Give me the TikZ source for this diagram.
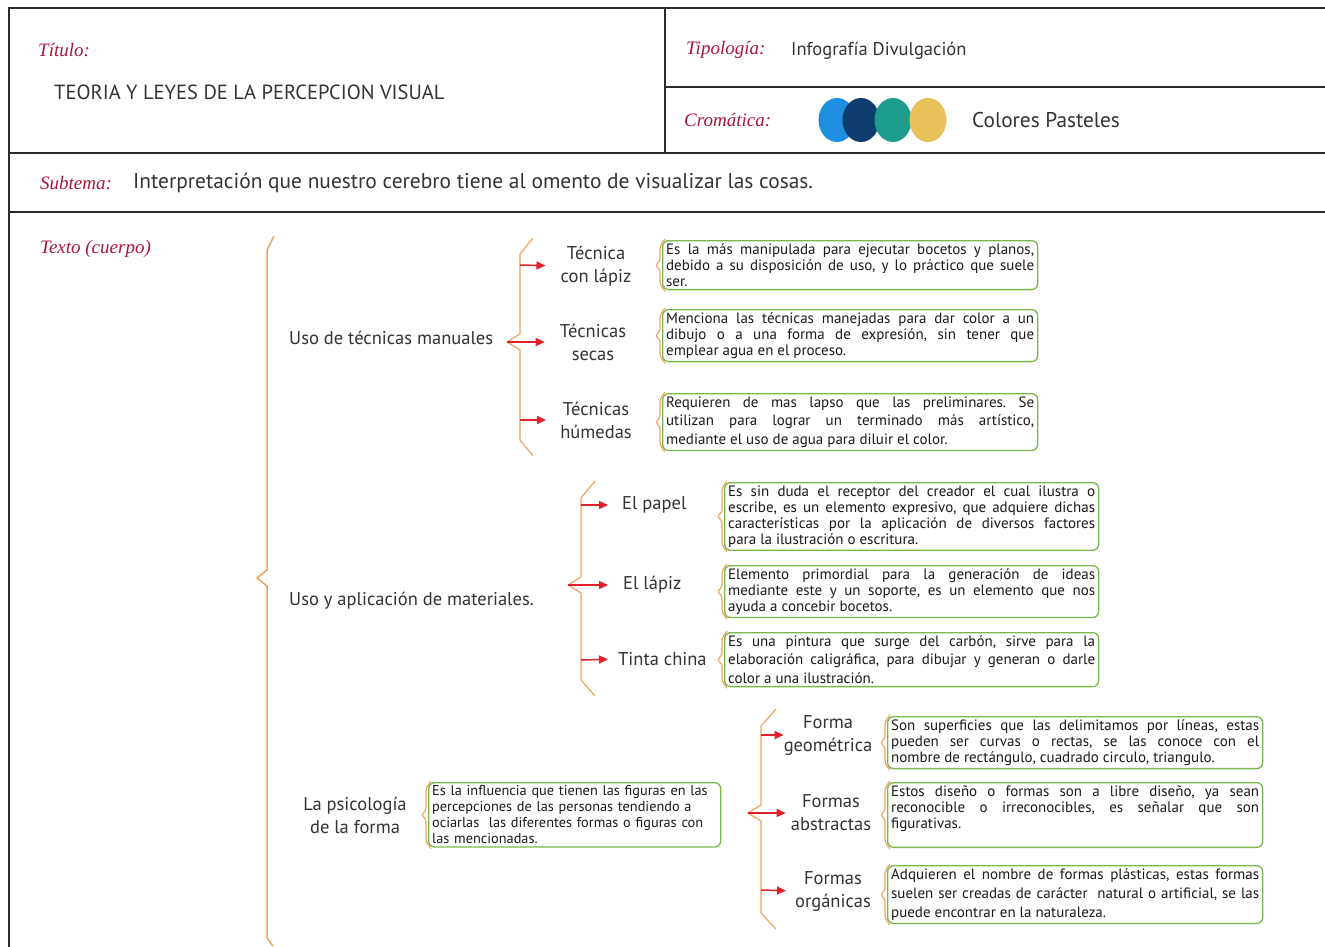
\documentclass[tikz,border=0pt]{standalone}
\usepackage{fontspec}
\setmainfont{PT Sans}
\newfontfamily\tagfont{Liberation Serif}
\usetikzlibrary{calc, arrows.meta, shapes.geometric}
\frenchspacing

\definecolor{framegray}{HTML}{2B2B2B}
\definecolor{tagred}{HTML}{A8173C}
\definecolor{labelgray}{HTML}{333333}
\definecolor{boxtext}{HTML}{1A1A1A}
\definecolor{braceorange}{HTML}{F2A35E}
\definecolor{arrred}{HTML}{E0202A}
\definecolor{boxgreen}{HTML}{78B84A}
\definecolor{dotblue}{HTML}{1E8FE1}
\definecolor{dotnavy}{HTML}{0D3C6E}
\definecolor{dotteal}{HTML}{1E9C8C}
\definecolor{dotyellow}{HTML}{E9C05A}

\tikzset{
  frame/.style={draw=framegray, line width=1.6pt},
  tag/.style={font=\tagfont\itshape\fontsize{19}{22}\selectfont, text=tagred, anchor=west, inner sep=0pt},
  head/.style={font=\fontsize{20.5}{24}\selectfont, text=labelgray, anchor=west, inner sep=0pt},
  item/.style={font=\fontsize{18.5}{23}\selectfont, text=labelgray, align=center, inner sep=0pt},
  info/.style={draw=boxgreen, line width=1.3pt, rounded corners=6pt, fill=white, text=boxtext,
    anchor=north west, align=justify, inner xsep=3.5pt, inner ysep=3pt,
    font=\fontsize{15}{16}\selectfont},
  brc/.style={draw=braceorange, line width=1.2pt, line join=round},
  arr/.style={draw=arrred, line width=1.5pt, -{Triangle[length=9pt,width=8pt]}},
  dot/.style={ellipse, inner sep=0pt, minimum width=37pt, minimum height=44pt},
}

% brace on the left side of a text box
\newcommand{\infobrace}[1]{%
  \draw[brc, rounded corners=3pt] ($(#1.north west)+(3,-1)$) -- ($(#1.north west)+(-2,6)$)
    -- ($(#1.west)+(-2,-4)$) -- ($(#1.west)+(-7,0)$) -- ($(#1.west)+(-2,4)$)
    -- ($(#1.south west)+(-2,-6)$) -- ($(#1.south west)+(3,1)$);}

\begin{document}
\begin{tikzpicture}[x=1pt, y=-1pt]
  \useasboundingbox[fill=white] (0,0) rectangle (1325,947);

  % frame of the sheet
  \draw[frame] (1325,8) -- (9,8) -- (9,947);
  \draw[frame] (9,153) -- (1325,153);
  \draw[frame] (9,212) -- (1325,212);
  \draw[frame] (665,8) -- (665,153);
  \draw[frame] (665,87) -- (1325,87);

  % header
  \node[tag] (titulo) at (38,50) {Título:};
  \node[head] (tema) at (54,92) {TEORIA Y LEYES DE LA PERCEPCION VISUAL};
  \node[tag] (tipo) at (686,50) {Tipología:};
  \node[head, font=\fontsize{18.5}{22}\selectfont] (tipotxt) at (791,51) {Infografía Divulgación};
  \node[tag] (croma) at (684,120) {Cromática:};
  \node[dot, fill=dotblue] (dot1) at (837,120) {};
  \node[dot, fill=dotnavy] (dot2) at (861,120) {};
  \node[dot, fill=dotteal] (dot3) at (893,120) {};
  \node[dot, fill=dotyellow] (dot4) at (928,120) {};
  \node[head, font=\fontsize{21.3}{24}\selectfont] (cromatxt) at (972,120) {Colores Pasteles};
  \node[tag] (subtema) at (40,183) {Subtema:};
  \node[head, font=\fontsize{21.4}{24}\selectfont] (subtxt) at (133,183)
    {Interpretación que nuestro cerebro tiene al omento de visualizar las cosas.};
  \node[tag] (cuerpo) at (40,249) {Texto (cuerpo)};

  % main brace
  \draw[brc, line width=1.5pt] (274,236) -- (267,250) -- (267,570) -- (257,578)
    -- (267,586) -- (267,938) -- (273,946);

  % second level
  \node[item, anchor=west] (manual) at (289,338) {Uso de técnicas manuales};
  \node[item, anchor=west] (mater) at (289,601) {Uso y aplicación de materiales.};
  \node[item] (psico) at (355,815) {La psicología\\de la forma};

  % técnicas manuales
  \draw[brc] (533,238) -- (520,254) -- (520,334) -- (507,342) -- (520,350) -- (520,440) -- (533,456);
  \coordinate (m1) at (520,265);
  \coordinate (m2) at (507,342);
  \coordinate (m3) at (520,420);
  \node[item] (lapiz) at (596,266) {Técnica\\con lápiz};
  \node[item] (secas) at (593,342) {Técnicas\\secas};
  \node[item] (humed) at (596,420) {Técnicas\\húmedas};
  \draw[arr, shorten >=15pt] (m1) -- (lapiz.west);
  \draw[arr, shorten >=15pt] (m2) -- (secas.west);
  \draw[arr, shorten >=14pt] (m3) -- (humed.west);

  \node[info, text width=368pt] (b1) at (662,240)
    {Es la más manipulada para ejecutar bocetos y planos,\linebreak
     debido a su disposición de uso, y lo práctico que suele\linebreak ser.};
  \node[info, text width=368pt] (b2) at (662,309)
    {Menciona las técnicas manejadas para dar color a un\linebreak
     dibujo o a una forma de expresión, sin tener que\linebreak emplear agua en el proceso.};
  \node[info, text width=368pt, font=\fontsize{15}{18.5}\selectfont] (b3) at (662,393)
    {Requieren de mas lapso que las preliminares. Se\linebreak
     utilizan para lograr un terminado más artístico,\linebreak
     mediante el uso de agua para diluir el color.};

  % materiales
  \draw[brc] (595,481) -- (581,498) -- (581,577) -- (568,585) -- (581,593) -- (581,680) -- (595,696);
  \coordinate (t1) at (581,505);
  \coordinate (t2) at (568,585);
  \coordinate (t3) at (581,660);
  \node[item, anchor=west] (papel) at (622,505) {El papel};
  \node[item, anchor=west] (lapiz2) at (623,585) {El lápiz};
  \node[item, anchor=west] (tinta) at (618,659) {Tinta china};
  \draw[arr, shorten >=14pt] (t1) -- (papel.west);
  \draw[arr, shorten >=15pt] (t2) -- (lapiz2.west);
  \draw[arr, shorten >=10pt] (t3) -- (tinta.west);

  \node[info, text width=367pt] (b4) at (724,482)
    {Es sin duda el receptor del creador el cual ilustra o\linebreak
     escribe, es un elemento expresivo, que adquiere dichas\linebreak
     características por la aplicación de diversos factores\linebreak
     para la ilustración o escritura.};
  \node[info, text width=367pt] (b5) at (724,565)
    {Elemento primordial para la generación de ideas\linebreak
     mediante este y un soporte, es un elemento que nos\linebreak ayuda a concebir bocetos.};
  \node[info, text width=367pt, font=\fontsize{15}{18.5}\selectfont] (b6) at (724,632)
    {Es una pintura que surge del carbón, sirve para la\linebreak
     elaboración caligráfica, para dibujar y generan o darle\linebreak
     color a una ilustración.};

  % psicologia de la forma
  \node[info, text width=285pt, align=left, font=\fontsize{14.3}{16}\selectfont] (b7) at (428,782)
    {Es la influencia que tienen las figuras en las\\
     percepciones de las personas tendiendo a\\
     ociarlas\ \ las diferentes formas o figuras con\\
     las mencionadas.};

  \draw[brc] (776,709) -- (761,726) -- (761,805) -- (748,813) -- (761,821) -- (761,913) -- (776,929);
  \coordinate (f1) at (761,735);
  \coordinate (f2) at (748,813);
  \coordinate (f3) at (761,890);
  \node[item] (geom) at (828,735) {Forma\\geométrica};
  \node[item] (abst) at (831,813) {Formas\\abstractas};
  \node[item] (organ) at (833,891) {Formas\\orgánicas};
  \draw[arr, shorten >=0pt] (f1) -- (geom.west);
  \draw[arr, shorten >=5pt] (f2) -- (abst.west);
  \draw[arr, shorten >=9pt] (f3) -- (organ.west);

  \node[info, text width=368pt] (b8) at (887,716)
    {Son superficies que las delimitamos por líneas, estas\linebreak
     pueden ser curvas o rectas, se las conoce con el\linebreak
     nombre de rectángulo, cuadrado circulo, triangulo.};
  \node[info, text width=368pt] (b9) at (887,782)
    {Estos diseño o formas son a libre diseño, ya sean\linebreak
     reconocible o irreconocibles, es señalar que son\linebreak
     figurativas.\par\mbox{}};
  \node[info, text width=368pt, font=\fontsize{15}{19}\selectfont] (b10) at (887,865)
    {Adquieren el nombre de formas plásticas, estas formas\linebreak
     suelen ser creadas de carácter\ \ natural o artificial, se las\linebreak
     puede encontrar en la naturaleza.};

  % small braces on the boxes
  \foreach \b in {b1,b2,b3,b4,b5,b6,b7,b8,b9,b10}
    \infobrace{\b};
\end{tikzpicture}
\end{document}
